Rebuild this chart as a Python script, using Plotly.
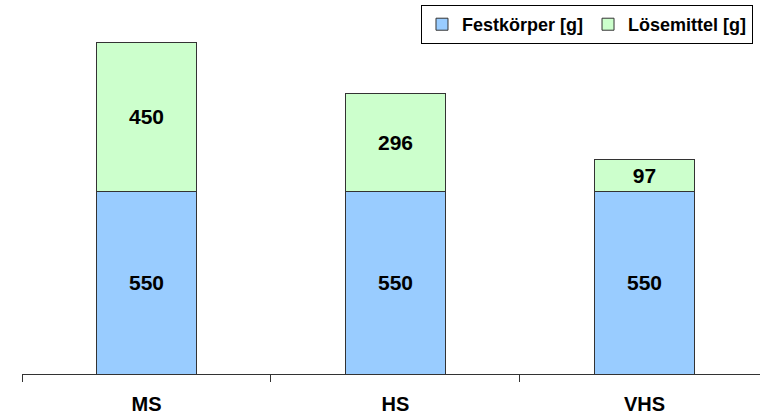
import plotly.graph_objects as go

categories = ["MS", "HS", "VHS"]
festkoerper = [550, 550, 550]
loesemittel = [450, 296, 97]

FONT = "Arial, Liberation Sans, sans-serif"
BAR_TEXT = dict(family=FONT, size=21, color="black", weight="bold")

fig = go.Figure()
fig.add_trace(go.Bar(
    x=categories, y=festkoerper, name="Festkörper [g]",
    marker=dict(color="#99CCFF", line=dict(color="#333333", width=1)),
    text=festkoerper, texttemplate="%{text}", textposition="inside",
    insidetextanchor="middle", constraintext="none", textangle=0,
    textfont=BAR_TEXT,
))
fig.add_trace(go.Bar(
    x=categories, y=loesemittel, name="Lösemittel [g]",
    marker=dict(color="#CCFFCC", line=dict(color="#333333", width=1)),
    text=loesemittel, texttemplate="%{text}", textposition="inside",
    insidetextanchor="middle", constraintext="none", textangle=0,
    textfont=BAR_TEXT,
))

fig.update_layout(
    width=760, height=420,
    barmode="stack", bargap=0.6,
    paper_bgcolor="white", plot_bgcolor="white",
    margin=dict(l=22, r=0, t=0, b=46),
    font=dict(family=FONT, color="black"),
    showlegend=True,
    legend=dict(
        orientation="h", x=0.9905, xanchor="right", y=0.9866, yanchor="top",
        bordercolor="black", borderwidth=1, bgcolor="white",
        font=dict(family=FONT, size=18, color="black", weight="bold"),
        traceorder="normal", itemwidth=30, entrywidth=0,
    ),
    xaxis=dict(
        range=[-0.5, 2.464], showline=True, linecolor="#333333", linewidth=1,
        ticks="outside", ticklen=7, tickcolor="#333333", tickson="boundaries",
        tickfont=dict(family=FONT, size=20, color="black", weight="bold"),
        ticklabelstandoff=12, showgrid=False, zeroline=False,
    ),
    yaxis=dict(range=[0, 1126.5], visible=False, showgrid=False),
)

fig.write_html("out.html")
